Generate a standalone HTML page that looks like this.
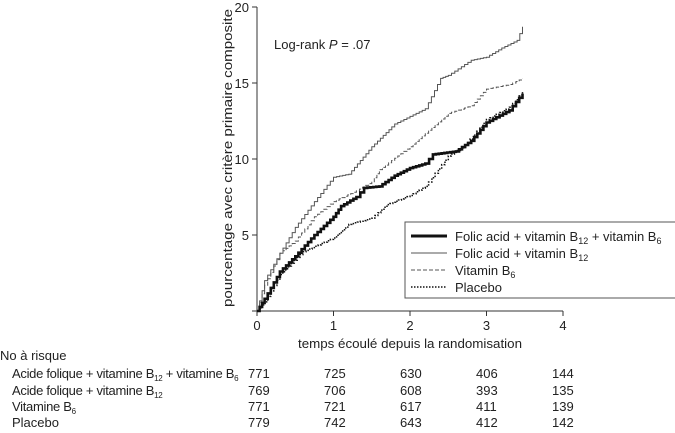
<!DOCTYPE html>
<html><head><meta charset="utf-8"><style>
body{margin:0;background:#fff;width:675px;height:428px;overflow:hidden;font-family:"Liberation Sans",sans-serif;}
svg text{font-family:"Liberation Sans",sans-serif;fill:#222;font-size:13px}
</style></head><body>
<svg id="s" width="675" height="428" xmlns="http://www.w3.org/2000/svg">
<g stroke="#333" stroke-width="1" fill="none">
<line x1="257" y1="7" x2="257" y2="311"/>
<line x1="257" y1="311" x2="563" y2="311"/>
<line x1="252" y1="7" x2="257" y2="7"/><line x1="252" y1="83" x2="257" y2="83"/><line x1="252" y1="159" x2="257" y2="159"/><line x1="252" y1="235" x2="257" y2="235"/><line x1="252" y1="311" x2="257" y2="311"/>
<line x1="257" y1="311" x2="257" y2="316"/><line x1="333.5" y1="311" x2="333.5" y2="316"/><line x1="410" y1="311" x2="410" y2="316"/><line x1="486.5" y1="311" x2="486.5" y2="316"/><line x1="563" y1="311" x2="563" y2="316"/>
</g>
<g text-anchor="end"><text x="249" y="12">20</text><text x="249" y="88">15</text><text x="249" y="164">10</text><text x="249" y="240">5</text></g>
<g text-anchor="middle"><text x="257" y="330">0</text><text x="333.5" y="330">1</text><text x="410" y="330">2</text><text x="486.5" y="330">3</text><text x="563" y="330">4</text>
<text x="410" y="348" textLength="224" lengthAdjust="spacingAndGlyphs">temps écoulé depuis la randomisation</text>
<text transform="translate(232,158) rotate(-90)" textLength="298" lengthAdjust="spacingAndGlyphs">pourcentage avec critère primaire composite</text></g>
<text x="274" y="49">Log-rank <tspan font-style="italic">P</tspan> = .07</text>
<g id="curves" fill="none"></g>
<rect x="405" y="222" width="275" height="76" fill="#fff" stroke="#555" stroke-width="1"/>
<line x1="411" y1="236" x2="447" y2="236" stroke="#111" stroke-width="3"/>
<line x1="411" y1="253" x2="447" y2="253" stroke="#555" stroke-width="1"/>
<line x1="411" y1="270" x2="447" y2="270" stroke="#555" stroke-width="1" stroke-dasharray="4,2"/>
<line x1="411" y1="287" x2="447" y2="287" stroke="#111" stroke-width="1.5" stroke-dasharray="1.5,1.5"/>
<text x="455" y="241">Folic acid + vitamin B<tspan font-size="9" dy="3">12</tspan><tspan dy="-3"> + vitamin B</tspan><tspan font-size="9" dy="3">6</tspan></text>
<text x="455" y="258">Folic acid + vitamin B<tspan font-size="9" dy="3">12</tspan></text>
<text x="455" y="275">Vitamin B<tspan font-size="9" dy="3">6</tspan></text>
<text x="455" y="292">Placebo</text>
<g font-size="12.5">
<text x="0" y="360">No à risque</text>
<text x="12" y="378" letter-spacing="-0.3">Acide folique + vitamine B<tspan font-size="8" dy="3">12</tspan><tspan dy="-3"> + vitamine B</tspan><tspan font-size="8" dy="3">6</tspan></text>
<text x="12" y="395" letter-spacing="-0.3">Acide folique + vitamine B<tspan font-size="8" dy="3">12</tspan></text>
<text x="12" y="411" letter-spacing="-0.3">Vitamine B<tspan font-size="8" dy="3">6</tspan></text>
<text x="12" y="427">Placebo</text>
</g>
<g>
<text x="248" y="378">771</text><text x="324" y="378">725</text><text x="400" y="378">630</text><text x="476" y="378">406</text><text x="552" y="378">144</text>
<text x="248" y="395">769</text><text x="324" y="395">706</text><text x="400" y="395">608</text><text x="476" y="395">393</text><text x="552" y="395">135</text>
<text x="248" y="411">771</text><text x="324" y="411">721</text><text x="400" y="411">617</text><text x="476" y="411">411</text><text x="552" y="411">139</text>
<text x="248" y="427">779</text><text x="324" y="427">742</text><text x="400" y="427">643</text><text x="476" y="427">412</text><text x="552" y="427">142</text>
</g>
</svg>
<script>
var X=t=>257+76.5*t,Y=v=>311-15.2*v;
function step(p){var d="M"+X(p[0][0])+","+Y(p[0][1]);for(var i=1;i<p.length;i++){var a=p[i-1],b=p[i];var n=Math.max(2,Math.round((b[0]-a[0])*25));for(var k=1;k<=n;k++){var t=a[0]+(b[0]-a[0])*k/n,v=a[1]+(b[1]-a[1])*k/n;d+=" H"+X(t).toFixed(1)+" V"+Y(v).toFixed(1);}}return d;}
var S=[
[[[0,0],[0.1,2],[0.3,3.8],[0.5,5.5],[0.75,7.2],[1,8.8],[1.2,9.0],[1.5,10.8],[1.8,12.3],[2,12.8],[2.2,13.3],[2.4,15.3],[2.5,15.5],[2.8,16.5],[3,16.7],[3.2,17.3],[3.4,17.8],[3.47,18.7]],"#555",1,""],
[[[0,0],[0.1,1.7],[0.3,3.8],[0.5,4.6],[0.75,6.2],[1,7.2],[1.3,7.9],[1.5,8.5],[1.6,9.3],[2,10.8],[2.2,11.7],[2.5,13.0],[2.8,13.5],[3,14.6],[3.3,14.9],[3.47,15.3]],"#555",1,"4,2"],
[[[0,0],[0.1,0.6],[0.3,2.4],[0.6,3.9],[1,4.8],[1.2,5.7],[1.5,6.1],[1.7,7],[2,7.6],[2.2,8.2],[2.5,10.2],[2.7,10.8],[3,12.6],[3.3,13.4],[3.47,14.4]],"#111",1.5,"1.5,1.5"],
[[[0,0],[0.1,0.8],[0.3,2.6],[0.5,3.6],[0.75,5],[1,6.2],[1.1,6.9],[1.3,7.5],[1.4,8.1],[1.6,8.2],[1.8,8.9],[2,9.4],[2.2,9.7],[2.3,10.3],[2.6,10.5],[2.8,11.2],[3,12.4],[3.3,13.2],[3.47,14.3]],"#111",2.6,""]];
var g=document.getElementById("curves"),h="";
S.forEach(s=>{h+='<path d="'+step(s[0])+'" stroke="'+s[1]+'" stroke-width="'+s[2]+'"'+(s[3]?' stroke-dasharray="'+s[3]+'"':'')+'/>';});
g.innerHTML=h;
</script>
</body></html>
